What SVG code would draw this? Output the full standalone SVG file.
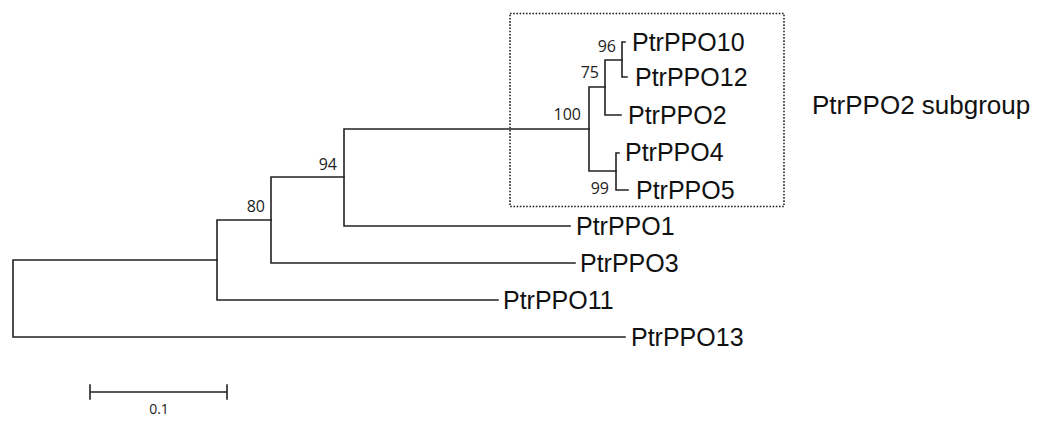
<svg xmlns="http://www.w3.org/2000/svg" width="1044" height="421" viewBox="0 0 1044 421">
<style>
.br{fill:none;stroke:#222;stroke-width:1.6;stroke-linecap:square}
.lf{font-family:"Liberation Sans",Arial,sans-serif;font-size:25px;fill:#111}
.bs{font-family:"Open Sans","Noto Sans",sans-serif;font-size:16px;fill:#222;text-anchor:end}
.box{fill:none;stroke:#222;stroke-width:1.6;stroke-dasharray:1.6 1.6}
</style>
<rect width="1044" height="421" fill="#fff"/>
<g id="connectors">
<path class="br" d="M13,260 V337 M13,260 H217 M13,337 H625"/>
<path class="br" d="M217,220 V300 M217,220 H271 M217,300 H498"/>
<path class="br" d="M271,177 V263 M271,177 H344 M271,263 H575"/>
<path class="br" d="M344,129 V226 M344,129 H589 M344,226 H570"/>
<path class="br" d="M589,87 V171 M589,87 H605 M589,171 H616"/>
<path class="br" d="M605,60 V115 M605,60 H622 M605,115 H621"/>
<path class="br" d="M622,42 V77 M622,42 H625 M622,77 H627"/>
<path class="br" d="M616,153 V190 M616,153 H619 M616,190 H628"/>
</g>
<g id="subgroup-box"><rect class="box" x="510" y="13.5" width="274" height="193"/></g>
<g id="n-PtrPPO10"><text class="lf" x="632" y="51">PtrPPO10</text></g>
<g id="n-PtrPPO12"><text class="lf" x="635" y="86">PtrPPO12</text></g>
<g id="n-PtrPPO2"><text class="lf" x="628" y="124">PtrPPO2</text></g>
<g id="n-PtrPPO4"><text class="lf" x="625" y="161">PtrPPO4</text></g>
<g id="n-PtrPPO5"><text class="lf" x="636" y="199">PtrPPO5</text></g>
<g id="n-PtrPPO1"><text class="lf" x="576" y="235">PtrPPO1</text></g>
<g id="n-PtrPPO3"><text class="lf" x="580" y="272">PtrPPO3</text></g>
<g id="n-PtrPPO11"><text class="lf" x="503" y="309">PtrPPO11</text></g>
<g id="n-PtrPPO13"><text class="lf" x="631" y="346">PtrPPO13</text></g>
<g id="subgroup-label"><text class="lf" x="812" y="114" style="font-size:26px">PtrPPO2 subgroup</text></g>
<g id="bootstrap">
<text class="bs" x="616" y="52">96</text>
<text class="bs" x="599" y="78">75</text>
<text class="bs" x="581" y="120">100</text>
<text class="bs" x="609" y="194">99</text>
<text class="bs" x="337" y="170">94</text>
<text class="bs" x="265" y="212">80</text>
</g>
<g id="scale-bar">
<path class="br" d="M90,392 H227 M90,385 V399 M227,385 V399"/>
<text x="159" y="414" font-family="'Open Sans','Noto Sans',sans-serif" font-size="14" fill="#222" text-anchor="middle">0.1</text>
</g>
</svg>
